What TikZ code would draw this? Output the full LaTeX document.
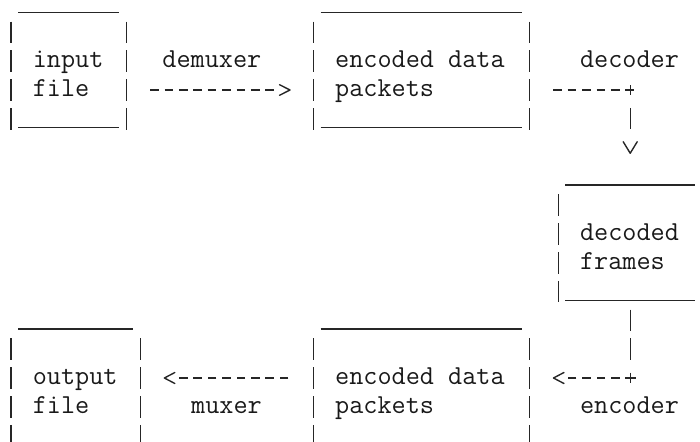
\documentclass[tikz,border=0pt]{standalone}
\usepackage{fontspec}
\usepackage{tikz}
\newcommand\asciitt{\fontsize{27.43pt}{28.8pt}\selectfont\ttfamily}

\begin{document}
\begin{tikzpicture}[x=14.4pt,y=-28.8pt,
    every node/.style={font=\asciitt,anchor=base west,inner sep=0pt,text=black!90},
    rule/.style={draw=black!85,line width=1.2pt},
    side/.style={draw=black!85,line width=1.4pt,dash pattern=on 21.6pt off 7.2pt},
    dashes/.style={draw=black!85,line width=1.4pt,dash pattern=on 8.6pt off 5.8pt},
    pics/head/.style 2 args={code={\draw[draw=black!85,line width=1.4pt,line join=round,line cap=round] (-#1pt,#2pt) -- (0,0) -- (-#1pt,-#2pt);}}]
    \useasboundingbox (-0.264,-0.361) rectangle (48.347,14.986);

    \node (in1) at (2,2) {input};
    \node (in2) at (2,3) {file};
    \node (dmx) at (11,2) {demuxer};
    \node (pk1) at (23,2) {encoded data};
    \node (pk2) at (23,3) {packets};
    \node (dec) at (40,2) {decoder};
    \node (fr1) at (40,8) {decoded};
    \node (fr2) at (40,9) {frames};
    \node (out1) at (2,13) {output};
    \node (out2) at (2,14) {file};
    \node (mux) at (13,14) {muxer};
    \node (pk3) at (23,13) {encoded data};
    \node (pk4) at (23,14) {packets};
    \node (enc) at (40,14) {encoder};

    \draw[rule] (1,0.06) -- (8,0.06) (1,4.06) -- (8,4.06);
    \draw[side] (0.5,0.392) -- (0.5,4.139) (8.5,0.392) -- (8.5,4.139);
    \draw[rule] (22,0.06) -- (36,0.06) (22,4.06) -- (36,4.06);
    \draw[side] (21.5,0.392) -- (21.5,4.139) (36.5,0.392) -- (36.5,4.139);
    \draw[rule] (39,6.06) -- (48,6.06) (39,10.06) -- (48,10.06);
    \draw[side] (38.5,6.392) -- (38.5,10.139) (48.5,6.392) -- (48.5,10.139);
    \draw[rule] (1,11.06) -- (9,11.06) (1,15.06) -- (9,15.06);
    \draw[side] (0.5,11.392) -- (0.5,15.139) (9.5,11.392) -- (9.5,15.139);
    \draw[rule] (22,11.06) -- (36,11.06) (22,15.06) -- (36,15.06);
    \draw[side] (21.5,11.392) -- (21.5,15.139) (36.5,11.392) -- (36.5,15.139);

    \coordinate (dm-a) at (10.16,2.764);
    \coordinate (dm-b) at (18.76,2.764);
    \coordinate (dm-tip) at (19.875,2.764);
    \draw[dashes] (dm-a) -- (dm-b);
    \pic at (dm-tip) {head={10.5}{5.3}};

    \coordinate (dc-a) at (38.16,2.764);
    \coordinate (dc-b) at (43.9,2.764);
    \coordinate (dc-c) at (43.5,2.6);
    \coordinate (dc-tip) at (43.5,4.96);
    \draw[dashes] (dc-a) -- (dc-b);
    \draw[dashes,dash pattern=on 10pt off 12.6pt on 21.6pt off 40pt] (dc-c) -- (dc-tip);
    \pic[rotate=-90] at (dc-tip) {head={11.5}{7}};

    \coordinate (ec-a) at (43.5,10.392);
    \coordinate (ec-b) at (43.5,12.93);
    \coordinate (ec-c) at (43.9,12.764);
    \coordinate (ec-d) at (39.16,12.764);
    \coordinate (ec-tip) at (38.17,12.764);
    \draw[dashes,dash pattern=on 21.6pt off 7.2pt on 21.6pt off 12.6pt on 10pt off 20pt] (ec-a) -- (ec-b);
    \draw[dashes,dash pattern=on 10.6pt off 5.8pt on 8.6pt off 5.8pt on 8.6pt off 5.8pt on 8.6pt off 5.8pt on 8.6pt off 20pt] (ec-c) -- (ec-d);
    \pic[rotate=180] at (ec-tip) {head={10.5}{5.5}};

    \coordinate (mx-a) at (19.76,12.764);
    \coordinate (mx-b) at (12.16,12.764);
    \coordinate (mx-tip) at (11.15,12.764);
    \draw[dashes] (mx-a) -- (mx-b);
    \pic[rotate=180] at (mx-tip) {head={10.5}{5.5}};
\end{tikzpicture}
\end{document}
